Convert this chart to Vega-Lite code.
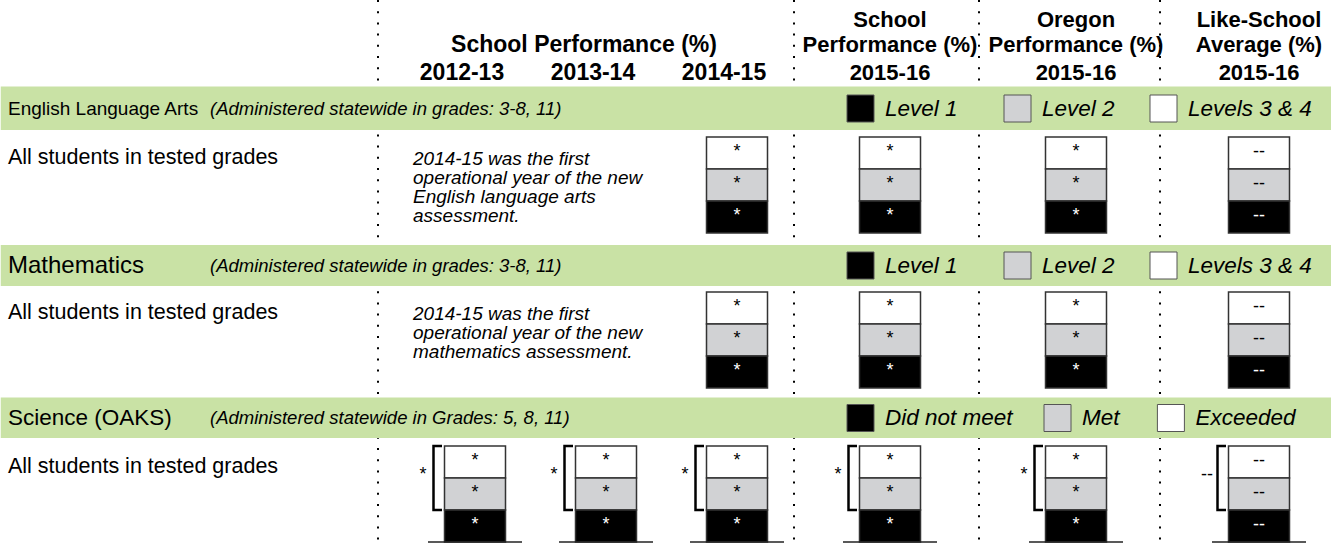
{
  "$schema": "https://vega.github.io/schema/vega-lite/v6.json",
  "width": 1331,
  "height": 544,
  "padding": 0,
  "autosize": {"type": "none"},
  "background": "white",
  "config": {"view": {"stroke": null}, "font": "Liberation Sans"},
  "datasets": {
    "sections": [
      {"sec": "ELA", "name": "English Language Arts", "note": "(Administered statewide in grades: 3-8, 11)", "b0": 10, "bc": 11, "b1": 12, "lr": 13},
      {"sec": "Math", "name": "Mathematics", "note": "(Administered statewide in grades: 3-8, 11)", "b0": 20, "bc": 21, "b1": 22, "lr": 23},
      {"sec": "Science", "name": "Science (OAKS)", "note": "(Administered statewide in Grades: 5, 8, 11)", "b0": 30, "bc": 31, "b1": 32, "lr": 33}
    ],
    "boxes": [
      {"sec": "ELA", "col": 3, "lev": "L3", "r0": 13, "r1": 14, "lab": "*"},
      {"sec": "ELA", "col": 3, "lev": "L2", "r0": 14, "r1": 15, "lab": "*"},
      {"sec": "ELA", "col": 3, "lev": "L1", "r0": 15, "r1": 16, "lab": "*"},
      {"sec": "ELA", "col": 4, "lev": "L3", "r0": 13, "r1": 14, "lab": "*"},
      {"sec": "ELA", "col": 4, "lev": "L2", "r0": 14, "r1": 15, "lab": "*"},
      {"sec": "ELA", "col": 4, "lev": "L1", "r0": 15, "r1": 16, "lab": "*"},
      {"sec": "ELA", "col": 5, "lev": "L3", "r0": 13, "r1": 14, "lab": "*"},
      {"sec": "ELA", "col": 5, "lev": "L2", "r0": 14, "r1": 15, "lab": "*"},
      {"sec": "ELA", "col": 5, "lev": "L1", "r0": 15, "r1": 16, "lab": "*"},
      {"sec": "ELA", "col": 6, "lev": "L3", "r0": 13, "r1": 14, "lab": "--"},
      {"sec": "ELA", "col": 6, "lev": "L2", "r0": 14, "r1": 15, "lab": "--"},
      {"sec": "ELA", "col": 6, "lev": "L1", "r0": 15, "r1": 16, "lab": "--"},
      {"sec": "Math", "col": 3, "lev": "L3", "r0": 23, "r1": 24, "lab": "*"},
      {"sec": "Math", "col": 3, "lev": "L2", "r0": 24, "r1": 25, "lab": "*"},
      {"sec": "Math", "col": 3, "lev": "L1", "r0": 25, "r1": 26, "lab": "*"},
      {"sec": "Math", "col": 4, "lev": "L3", "r0": 23, "r1": 24, "lab": "*"},
      {"sec": "Math", "col": 4, "lev": "L2", "r0": 24, "r1": 25, "lab": "*"},
      {"sec": "Math", "col": 4, "lev": "L1", "r0": 25, "r1": 26, "lab": "*"},
      {"sec": "Math", "col": 5, "lev": "L3", "r0": 23, "r1": 24, "lab": "*"},
      {"sec": "Math", "col": 5, "lev": "L2", "r0": 24, "r1": 25, "lab": "*"},
      {"sec": "Math", "col": 5, "lev": "L1", "r0": 25, "r1": 26, "lab": "*"},
      {"sec": "Math", "col": 6, "lev": "L3", "r0": 23, "r1": 24, "lab": "--"},
      {"sec": "Math", "col": 6, "lev": "L2", "r0": 24, "r1": 25, "lab": "--"},
      {"sec": "Math", "col": 6, "lev": "L1", "r0": 25, "r1": 26, "lab": "--"},
      {"sec": "Science", "col": 1, "lev": "L3", "r0": 33, "r1": 34, "lab": "*"},
      {"sec": "Science", "col": 1, "lev": "L2", "r0": 34, "r1": 35, "lab": "*"},
      {"sec": "Science", "col": 1, "lev": "L1", "r0": 35, "r1": 36, "lab": "*"},
      {"sec": "Science", "col": 2, "lev": "L3", "r0": 33, "r1": 34, "lab": "*"},
      {"sec": "Science", "col": 2, "lev": "L2", "r0": 34, "r1": 35, "lab": "*"},
      {"sec": "Science", "col": 2, "lev": "L1", "r0": 35, "r1": 36, "lab": "*"},
      {"sec": "Science", "col": 3, "lev": "L3", "r0": 33, "r1": 34, "lab": "*"},
      {"sec": "Science", "col": 3, "lev": "L2", "r0": 34, "r1": 35, "lab": "*"},
      {"sec": "Science", "col": 3, "lev": "L1", "r0": 35, "r1": 36, "lab": "*"},
      {"sec": "Science", "col": 4, "lev": "L3", "r0": 33, "r1": 34, "lab": "*"},
      {"sec": "Science", "col": 4, "lev": "L2", "r0": 34, "r1": 35, "lab": "*"},
      {"sec": "Science", "col": 4, "lev": "L1", "r0": 35, "r1": 36, "lab": "*"},
      {"sec": "Science", "col": 5, "lev": "L3", "r0": 33, "r1": 34, "lab": "*"},
      {"sec": "Science", "col": 5, "lev": "L2", "r0": 34, "r1": 35, "lab": "*"},
      {"sec": "Science", "col": 5, "lev": "L1", "r0": 35, "r1": 36, "lab": "*"},
      {"sec": "Science", "col": 6, "lev": "L3", "r0": 33, "r1": 34, "lab": "--"},
      {"sec": "Science", "col": 6, "lev": "L2", "r0": 34, "r1": 35, "lab": "--"},
      {"sec": "Science", "col": 6, "lev": "L1", "r0": 35, "r1": 36, "lab": "--"}
    ],
    "sciCols": [
      {"col": 1, "lab": "*"}, {"col": 2, "lab": "*"}, {"col": 3, "lab": "*"},
      {"col": 4, "lab": "*"}, {"col": 5, "lab": "*"}, {"col": 6, "lab": "--"}
    ],
    "headRight": [
      {"col": 4, "row": 1, "t": "School"}, {"col": 4, "row": 2, "t": "Performance (%)"}, {"col": 4, "row": 3, "t": "2015-16"},
      {"col": 5, "row": 1, "t": "Oregon"}, {"col": 5, "row": 2, "t": "Performance (%)"}, {"col": 5, "row": 3, "t": "2015-16"},
      {"col": 6, "row": 1, "t": "Like-School"}, {"col": 6, "row": 2, "t": "Average (%)"}, {"col": 6, "row": 3, "t": "2015-16"}
    ],
    "headYears": [
      {"col": 1, "row": 3, "t": "2012-13"}, {"col": 2, "row": 3, "t": "2013-14"}, {"col": 3, "row": 3, "t": "2014-15"}
    ],
    "notes": [
      {"col": 1, "row": 13, "t": "2014-15 was the first\noperational year of the new\nEnglish language arts\nassessment."},
      {"col": 1, "row": 23, "t": "2014-15 was the first\noperational year of the new\nmathematics assessment."}
    ],
    "legend": [
      {"slot": 11, "row": 11, "lev": "L1", "t": "Level 1"},
      {"slot": 12, "row": 11, "lev": "L2", "t": "Level 2"},
      {"slot": 13, "row": 11, "lev": "L3", "t": "Levels 3 & 4"},
      {"slot": 11, "row": 21, "lev": "L1", "t": "Level 1"},
      {"slot": 12, "row": 21, "lev": "L2", "t": "Level 2"},
      {"slot": 13, "row": 21, "lev": "L3", "t": "Levels 3 & 4"},
      {"slot": 21, "row": 31, "lev": "L1", "t": "Did not meet"},
      {"slot": 22, "row": 31, "lev": "L2", "t": "Met"},
      {"slot": 23, "row": 31, "lev": "L3", "t": "Exceeded"}
    ]
  },
  "layer": [
    {
      "data": {"values": [{"col": 0.5}, {"col": 3.5}, {"col": 4.5}, {"col": 5.5}]},
      "mark": {"type": "rule", "strokeDash": [2, 9.2], "strokeWidth": 2, "color": "#000000"},
      "encoding": {
        "x": {"field": "col", "type": "quantitative", "axis": null,
              "scale": {"domain": [-1, 0, 0.5, 1, 2, 3, 3.5, 4, 4.5, 5, 5.5, 6, 7, 11, 12, 13, 21, 22, 23], "range": [0, 8, 378, 475, 606, 737, 794, 890, 979, 1076, 1160, 1259, 1331, 860.5, 1017.5, 1163.5, 860.5, 1057.5, 1182.5], "nice": false, "zero": false}},
        "y": {"datum": 0, "type": "quantitative", "axis": null,
              "scale": {"domain": [0, 1, 2, 3, 10, 11, 12, 13, 14, 15, 16, 20, 21, 22, 23, 24, 25, 26, 30, 31, 32, 33, 34, 35, 36, 40], "range": [0, 27, 51.5, 80, 86.5, 108.5, 130, 137, 169, 201, 233, 245, 265.5, 286, 292, 324, 356, 388, 397.5, 418, 438, 446, 478, 510, 542, 544], "nice": false, "zero": false}},
        "y2": {"datum": 40}
      }
    },
    {
      "data": {"name": "sections"},
      "mark": {"type": "rect", "color": "#c9e2a5"},
      "encoding": {
        "x": {"datum": -1, "type": "quantitative"},
        "x2": {"datum": 7},
        "y": {"field": "b0", "type": "quantitative"},
        "y2": {"field": "b1"}
      }
    },
    {
      "data": {"name": "sections"},
      "transform": [{"filter": "datum.sec === 'ELA'"}],
      "mark": {"type": "text", "align": "left", "baseline": "middle", "fontSize": 19},
      "encoding": {
        "x": {"datum": 0, "type": "quantitative"},
        "y": {"field": "bc", "type": "quantitative"},
        "text": {"field": "name"}
      }
    },
    {
      "data": {"name": "sections"},
      "transform": [{"filter": "datum.sec === 'Math'"}],
      "mark": {"type": "text", "align": "left", "baseline": "middle", "fontSize": 24},
      "encoding": {
        "x": {"datum": 0, "type": "quantitative"},
        "y": {"field": "bc", "type": "quantitative"},
        "text": {"field": "name"}
      }
    },
    {
      "data": {"name": "sections"},
      "transform": [{"filter": "datum.sec === 'Science'"}],
      "mark": {"type": "text", "align": "left", "baseline": "middle", "fontSize": 22.5},
      "encoding": {
        "x": {"datum": 0, "type": "quantitative"},
        "y": {"field": "bc", "type": "quantitative"},
        "text": {"field": "name"}
      }
    },
    {
      "data": {"name": "sections"},
      "mark": {"type": "text", "align": "left", "baseline": "middle", "fontSize": 18.5, "fontStyle": "italic", "dx": 202},
      "encoding": {
        "x": {"datum": 0, "type": "quantitative"},
        "y": {"field": "bc", "type": "quantitative"},
        "text": {"field": "note"}
      }
    },
    {
      "data": {"name": "sections"},
      "mark": {"type": "text", "align": "left", "baseline": "middle", "fontSize": 21.5, "dy": 21},
      "encoding": {
        "x": {"datum": 0, "type": "quantitative"},
        "y": {"field": "lr", "type": "quantitative"},
        "text": {"value": "All students in tested grades"}
      }
    },
    {
      "data": {"name": "headRight"},
      "mark": {"type": "text", "align": "center", "baseline": "alphabetic", "fontSize": 22, "fontWeight": "bold"},
      "encoding": {
        "x": {"field": "col", "type": "quantitative"},
        "y": {"field": "row", "type": "quantitative"},
        "text": {"field": "t"}
      }
    },
    {
      "data": {"name": "headYears"},
      "mark": {"type": "text", "align": "center", "baseline": "alphabetic", "fontSize": 23, "fontWeight": "bold", "dx": -13},
      "encoding": {
        "x": {"field": "col", "type": "quantitative"},
        "y": {"field": "row", "type": "quantitative"},
        "text": {"field": "t"}
      }
    },
    {
      "data": {"values": [{"col": 2, "row": 2, "t": "School Performance (%)"}]},
      "mark": {"type": "text", "align": "center", "baseline": "alphabetic", "fontSize": 23, "fontWeight": "bold", "dx": -22},
      "encoding": {
        "x": {"field": "col", "type": "quantitative"},
        "y": {"field": "row", "type": "quantitative"},
        "text": {"field": "t"}
      }
    },
    {
      "data": {"name": "notes"},
      "mark": {"type": "text", "align": "left", "baseline": "top", "fontSize": 19, "fontStyle": "italic", "lineBreak": "\n", "lineHeight": 19, "dx": -62, "dy": 13},
      "encoding": {
        "x": {"field": "col", "type": "quantitative"},
        "y": {"field": "row", "type": "quantitative"},
        "text": {"field": "t"}
      }
    },
    {
      "data": {"name": "boxes"},
      "mark": {"type": "bar", "width": 61, "stroke": "#333333", "strokeWidth": 1.5},
      "encoding": {
        "x": {"field": "col", "type": "quantitative"},
        "y": {"field": "r0", "type": "quantitative"},
        "y2": {"field": "r1"},
        "fill": {"field": "lev", "type": "nominal", "legend": null,
                 "scale": {"domain": ["L1", "L2", "L3"], "range": ["#000000", "#d1d2d4", "#ffffff"]}}
      }
    },
    {
      "data": {"name": "boxes"},
      "mark": {"type": "text", "align": "center", "baseline": "middle", "fontSize": 18, "dy": 15},
      "encoding": {
        "x": {"field": "col", "type": "quantitative"},
        "y": {"field": "r0", "type": "quantitative"},
        "text": {"field": "lab"},
        "color": {"condition": {"test": "datum.lev === 'L1'", "value": "#ffffff"}, "value": "#000000"}
      }
    },
    {
      "data": {"name": "sciCols"},
      "mark": {"type": "point", "shape": "M-33,-32H-41.5V32H-33", "size": 4, "filled": false, "opacity": 1, "color": "#000000", "strokeWidth": 2.5},
      "encoding": {
        "x": {"field": "col", "type": "quantitative"},
        "y": {"datum": 34, "type": "quantitative"}
      }
    },
    {
      "data": {"name": "sciCols"},
      "mark": {"type": "point", "shape": "M-47,0H47", "size": 4, "filled": false, "opacity": 1, "color": "#222222", "strokeWidth": 1.5},
      "encoding": {
        "x": {"field": "col", "type": "quantitative"},
        "y": {"datum": 36, "type": "quantitative"}
      }
    },
    {
      "data": {"name": "sciCols"},
      "mark": {"type": "text", "align": "center", "baseline": "middle", "fontSize": 18, "dx": -52, "dy": -3},
      "encoding": {
        "x": {"field": "col", "type": "quantitative"},
        "y": {"datum": 34, "type": "quantitative"},
        "text": {"field": "lab"}
      }
    },
    {
      "data": {"name": "legend"},
      "mark": {"type": "point", "shape": "square", "size": 729, "filled": true, "opacity": 1, "stroke": "#555555", "strokeWidth": 1},
      "encoding": {
        "x": {"field": "slot", "type": "quantitative"},
        "y": {"field": "row", "type": "quantitative"},
        "fill": {"field": "lev", "type": "nominal", "legend": null}
      }
    },
    {
      "data": {"name": "legend"},
      "mark": {"type": "text", "align": "left", "baseline": "middle", "fontSize": 22.5, "fontStyle": "italic", "dx": 24.5},
      "encoding": {
        "x": {"field": "slot", "type": "quantitative"},
        "y": {"field": "row", "type": "quantitative"},
        "text": {"field": "t"}
      }
    }
  ]
}
